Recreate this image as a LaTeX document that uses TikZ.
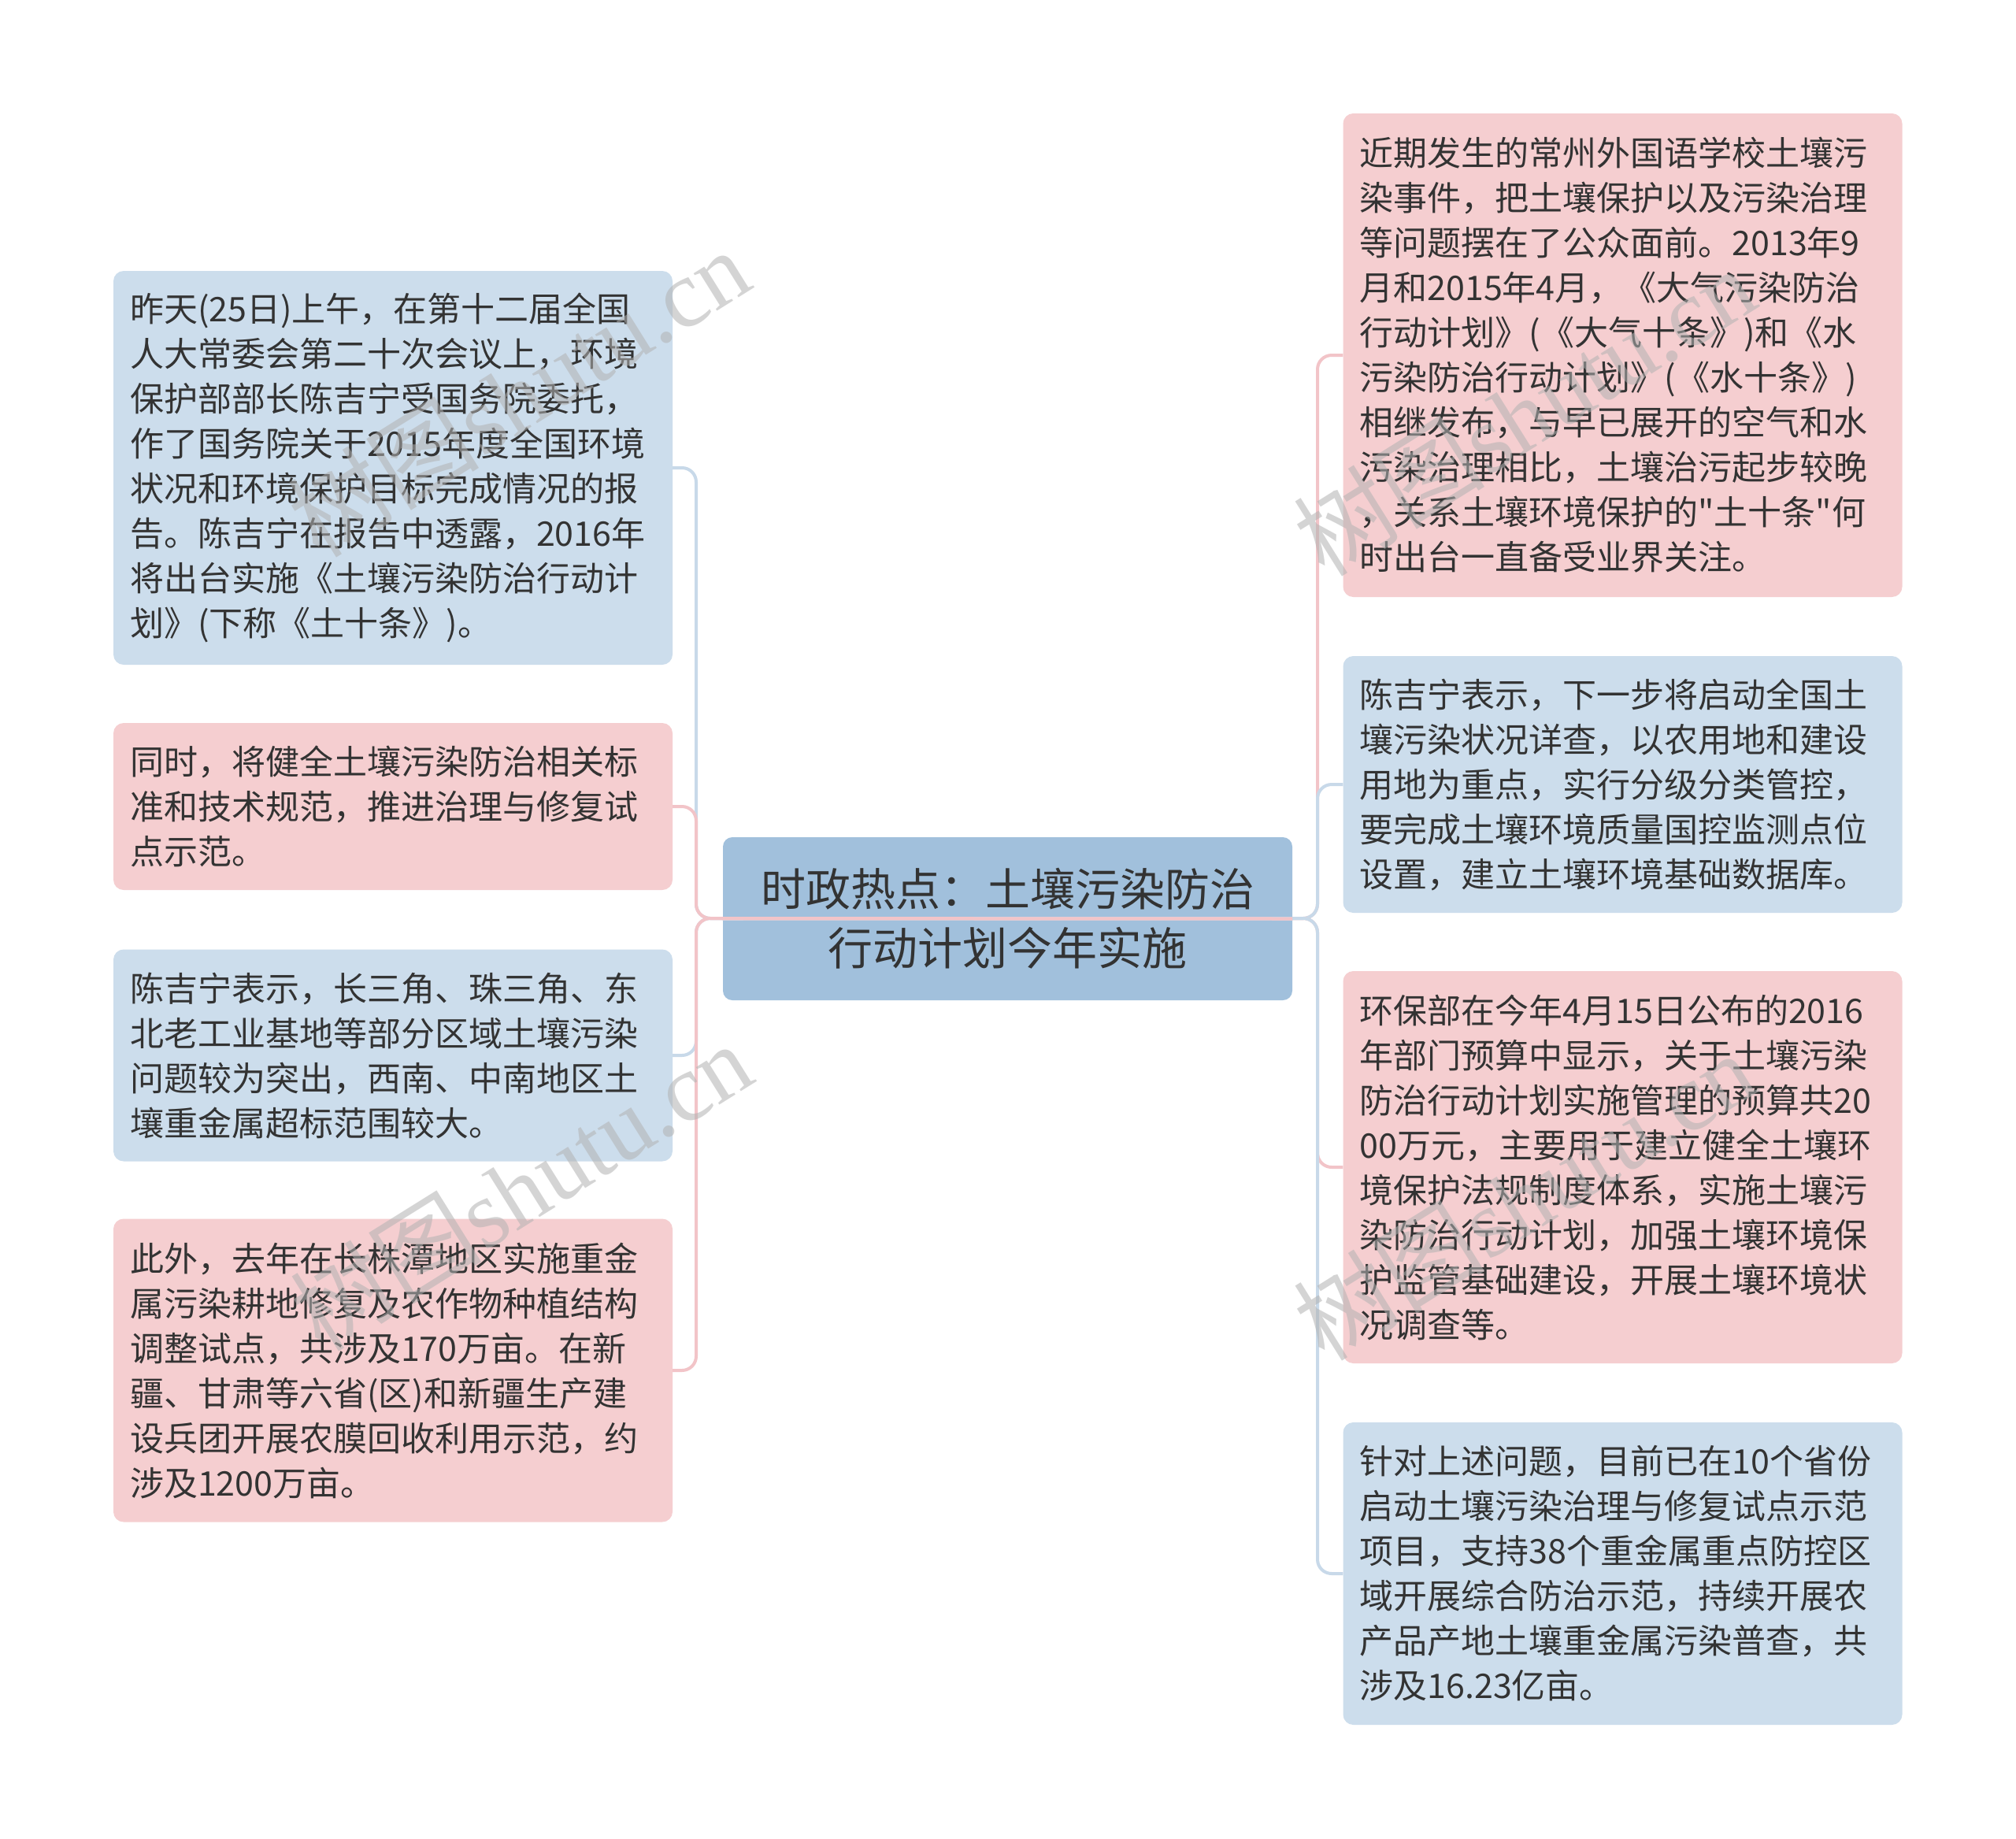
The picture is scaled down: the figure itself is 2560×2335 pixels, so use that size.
\documentclass[tikz,border=0pt]{standalone}
\usepackage{fontspec}
\setmainfont{Noto Sans CJK SC}[Ligatures=TeXOff]
\newfontfamily\wmfont{Liberation Serif}
\definecolor{bluefill}{RGB}{204,221,236}
\definecolor{pinkfill}{RGB}{245,206,208}
\definecolor{centerfill}{RGB}{161,192,220}
\definecolor{blueline}{RGB}{200,217,233}
\definecolor{pinkline}{RGB}{242,196,200}
\definecolor{txt}{RGB}{51,51,51}
\begin{document}
\begin{tikzpicture}[x=1pt,y=-1pt,
  childbox/.style={rounded corners=13pt, minimum width=710pt, text width=668pt, inner xsep=21pt, inner ysep=0pt, align=left, font=\fontsize{43}{57}\selectfont, text=txt, anchor=center},
  bluebox/.style={childbox, fill=bluefill},
  pinkbox/.style={childbox, fill=pinkfill},
  centerbox/.style={rounded corners=12pt, fill=centerfill, minimum width=723pt, minimum height=207pt, text width=690pt, align=center, inner sep=0pt, font=\fontsize{57}{75}\selectfont, text=txt},
  bluecon/.style={draw=blueline, line width=4pt, rounded corners=18pt},
  pinkcon/.style={draw=pinkline, line width=4pt, rounded corners=18pt},
  wm/.style={text=black!30, opacity=0.55, rotate=32, font=\fontsize{122}{122}\selectfont, inner sep=0pt}
]
\useasboundingbox[fill=white] (0,0) rectangle (2560,2335);

% central node
\node[centerbox] (c) at (1279.5,1166.5) {时政热点：土壤污染防治\\行动计划今年实施};

% left nodes
\node[bluebox, minimum height=500pt] (L1) at (499,594) {昨天(25日)上午，在第十二届全国\\人大常委会第二十次会议上，环境\\保护部部长陈吉宁受国务院委托，\\作了国务院关于2015年度全国环境\\状况和环境保护目标完成情况的报\\告。陈吉宁在报告中透露，2016年\\将出台实施《土壤污染防治行动计\\划》(下称《土十条》)。};
\node[pinkbox, minimum height=212pt] (L2) at (499,1024) {同时，将健全土壤污染防治相关标\\准和技术规范，推进治理与修复试\\点示范。};
\node[bluebox, minimum height=269pt] (L3) at (499,1340) {陈吉宁表示，长三角、珠三角、东\\北老工业基地等部分区域土壤污染\\问题较为突出，西南、中南地区土\\壤重金属超标范围较大。};
\node[pinkbox, minimum height=385pt] (L4) at (499,1740) {此外，去年在长株潭地区实施重金\\属污染耕地修复及农作物种植结构\\调整试点，共涉及170万亩。在新\\疆、甘肃等六省(区)和新疆生产建\\设兵团开展农膜回收利用示范，约\\涉及1200万亩。};

% right nodes
\node[pinkbox, minimum height=614pt] (R1) at (2060.5,451) {近期发生的常州外国语学校土壤污\\染事件，把土壤保护以及污染治理\\等问题摆在了公众面前。2013年9\\月和2015年4月，《大气污染防治\\行动计划》(《大气十条》)和《水\\污染防治行动计划》(《水十条》)\\相继发布，与早已展开的空气和水\\污染治理相比，土壤治污起步较晚\\，关系土壤环境保护的"土十条"何\\时出台一直备受业界关注。};
\node[bluebox, minimum height=326pt] (R2) at (2060.5,996) {陈吉宁表示，下一步将启动全国土\\壤污染状况详查，以农用地和建设\\用地为重点，实行分级分类管控，\\要完成土壤环境质量国控监测点位\\设置，建立土壤环境基础数据库。};
\node[pinkbox, minimum height=498pt] (R3) at (2060.5,1482) {环保部在今年4月15日公布的2016\\年部门预算中显示，关于土壤污染\\防治行动计划实施管理的预算共20\\00万元，主要用于建立健全土壤环\\境保护法规制度体系，实施土壤污\\染防治行动计划，加强土壤环境保\\护监管基础建设，开展土壤环境状\\况调查等。};
\node[bluebox, minimum height=384pt] (R4) at (2060.5,1998) {针对上述问题，目前已在10个省份\\启动土壤污染治理与修复试点示范\\项目，支持38个重金属重点防控区\\域开展综合防治示范，持续开展农\\产品产地土壤重金属污染普查，共\\涉及16.23亿亩。};

% trunk coordinates
\coordinate (lt) at (884,1166);
\coordinate (rt) at (1673,1166);

% connectors (right side first, then left side)
\path[pinkcon] (c.west) -- (rt) |- (R1.west);
\path[bluecon] (c.west) -- (rt) |- (R2.west);
\path[pinkcon] (c.west) -- (rt) |- (R3.west);
\path[bluecon] (c.west) -- (rt) |- (R4.west);
\path[bluecon] (c.east) -- (lt) |- (L1.east);
\path[pinkcon] (c.east) -- (lt) |- (L2.east);
\path[bluecon] (c.east) -- (lt) |- (L3.east);
\path[pinkcon] (c.east) -- (lt) |- (L4.east);

% watermarks
\node[wm] (wm1) at (658,498) {树图{\wmfont shutu.cn}};
\node[wm] (wm2) at (661,1506) {树图{\wmfont shutu.cn}};
\node[wm] (wm3) at (1935,522) {树图{\wmfont shutu.cn}};
\node[wm] (wm4) at (1935,1518) {树图{\wmfont shutu.cn}};
\end{tikzpicture}
\end{document}
